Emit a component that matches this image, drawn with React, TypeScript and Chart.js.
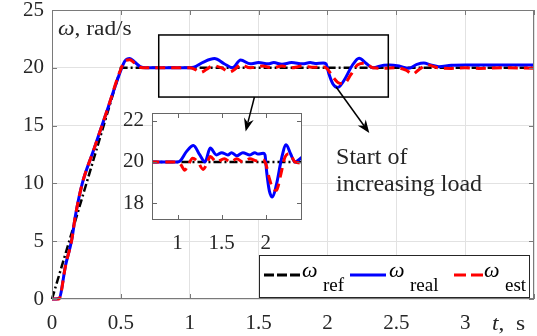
import React, { useEffect, useRef } from 'react';
import { Chart, registerables } from 'chart.js';

Chart.register(...registerables);

// ---------- data ----------
const tRef = [0, 0.5, 3.5];
const wRef = [0, 20, 20];

const tReal = [0, 0.05, 0.1, 0.143, 0.17, 0.22, 0.3, 0.4, 0.5, 0.53, 0.565, 0.6, 0.64, 0.68, 1.0, 1.03, 1.1, 1.18, 1.25, 1.31, 1.37, 1.44, 1.5, 1.57, 1.61, 1.67, 1.74, 1.82, 1.875, 1.91, 1.97, 1.99, 2.01, 2.04, 2.075, 2.12, 2.18, 2.23, 2.28, 2.33, 2.41, 2.45, 2.52, 2.59, 2.65, 2.7, 2.75, 2.81, 2.9, 3.0, 3.5];
const wReal = [0, 0.05, 3, 5.1, 7.2, 10, 12.8, 16.3, 19.8, 20.6, 20.8, 20.5, 20.1, 20.0, 20.0, 20.05, 20.5, 20.8, 20.35, 20.0, 20.67, 20.34, 20.45, 20.34, 20.45, 20.3, 20.45, 20.34, 20.45, 20.38, 20.42, 20.35, 19.5, 18.6, 18.3, 18.9, 20.2, 20.83, 20.4, 20.0, 20.23, 20.24, 20.15, 19.96, 20.3, 20.42, 20.25, 20.1, 20.22, 20.24, 20.24];

const tEst = [0, 0.05, 0.1, 0.143, 0.17, 0.22, 0.3, 0.4, 0.5, 0.53, 0.565, 0.6, 0.64, 0.68, 1.0, 1.04, 1.08, 1.12, 1.17, 1.23, 1.29, 1.33, 1.37, 1.44, 1.53, 1.6, 1.67, 1.74, 1.82, 1.9, 1.97, 2.0, 2.04, 2.08, 2.12, 2.17, 2.22, 2.27, 2.33, 2.4, 2.5, 2.57, 2.62, 2.66, 2.73, 2.8, 2.9, 3.0, 3.1, 3.3, 3.5];
const wEst = [0, 0, 3, 5.1, 7.2, 10, 12.8, 16.3, 19.9, 20.6, 20.7, 20.4, 20.05, 20.0, 20.0, 19.85, 19.6, 19.85, 20.18, 20.0, 19.64, 19.9, 20.26, 20.0, 20.15, 20.0, 20.15, 20.0, 20.15, 20.05, 20.1, 19.9, 19.2, 18.7, 18.63, 19.4, 20.26, 20.4, 20.0, 19.95, 20.0, 19.8, 19.46, 19.8, 20.24, 20.0, 19.95, 20.0, 19.95, 20.0, 19.97];

const mainXTicks = [0, 0.5, 1, 1.5, 2, 2.5, 3, 3.5];
const mainXLabels = ['0', '0.5', '1', '1.5', '2', '2.5', '3', ''];
const mainYTicks = [0, 5, 10, 15, 20, 25];
const mainYLabels = ['0', '5', '10', '15', '20', '25'];
const insetXTicks = [1, 1.5, 2];
const insetXLabels = ['1', '1.5', '2'];
const insetYTicks = [18, 20, 22];
const insetYLabels = ['18', '20', '22'];

// zoom window (data coordinates)
const zoomT = [0.775, 2.442];
const zoomW = [17.47, 22.84];
const insetT = [0.71, 2.41];
const insetW = [17.19, 22.37];

const SERIF = '"Liberation Serif", "Times New Roman", "DejaVu Serif", serif';
const TXT = '#262626';

const pts = (ts: number[], vs: number[]) => ts.map((t, i) => ({ x: t, y: vs[i] }));
const labelFor = (ticks: number[], labels: string[]) => (v: any) => {
  const i = ticks.findIndex((t) => Math.abs(t - Number(v)) < 1e-9);
  return i >= 0 ? labels[i] : '';
};

function makeDatasets(clip: any) {
  return [
    {
      label: 'est', data: pts(tEst, wEst), borderColor: '#ff0000', borderWidth: 3,
      borderDash: [10, 6], pointRadius: 0, cubicInterpolationMode: 'monotone', order: 0, clip,
    },
    {
      label: 'real', data: pts(tReal, wReal), borderColor: '#0000ff', borderWidth: 3,
      pointRadius: 0, cubicInterpolationMode: 'monotone', order: 1, clip,
    },
    {
      label: 'ref', data: pts(tRef, wRef), borderColor: '#000000', borderWidth: 2.5,
      borderDash: [8, 3, 2, 3], pointRadius: 0, tension: 0, order: 2, clip,
    },
  ];
}

function boxAndTicks(chart: any, color: string) {
  const ctx = chart.ctx;
  const { left, right, top, bottom } = chart.chartArea;
  const xs = chart.scales.x, ys = chart.scales.y;
  ctx.save();
  ctx.strokeStyle = color;
  ctx.lineWidth = 1;
  ctx.strokeRect(left + 0.5, top + 0.5, right - left - 1, bottom - top - 1);
  ctx.beginPath();
  xs.ticks.forEach((t: any) => {
    const px = Math.round(xs.getPixelForValue(t.value)) + 0.5;
    ctx.moveTo(px, bottom); ctx.lineTo(px, bottom - 5);
    ctx.moveTo(px, top); ctx.lineTo(px, top + 5);
  });
  ys.ticks.forEach((t: any) => {
    const py = Math.round(ys.getPixelForValue(t.value)) + 0.5;
    ctx.moveTo(left, py); ctx.lineTo(left + 5, py);
    ctx.moveTo(right, py); ctx.lineTo(right - 5, py);
  });
  ctx.stroke();
  ctx.restore();
}

function drawArrow(ctx: CanvasRenderingContext2D, x0: number, y0: number, x1: number, y1: number) {
  const ang = Math.atan2(y1 - y0, x1 - x0);
  const L = 13, W = 5, N = 9;
  const cos = Math.cos(ang), sin = Math.sin(ang);
  ctx.save();
  ctx.strokeStyle = '#000';
  ctx.fillStyle = '#000';
  ctx.lineWidth = 1.5;
  ctx.beginPath();
  ctx.moveTo(x0, y0);
  ctx.lineTo(x1 - cos * N, y1 - sin * N);
  ctx.stroke();
  ctx.beginPath();
  ctx.moveTo(x1, y1);
  ctx.lineTo(x1 - cos * L - sin * W, y1 - sin * L + cos * W);
  ctx.lineTo(x1 - cos * N, y1 - sin * N);
  ctx.lineTo(x1 - cos * L + sin * W, y1 - sin * L - cos * W);
  ctx.closePath();
  ctx.fill();
  ctx.restore();
}

// text drawn with a slight horizontal stretch, as in the reference
function wideText(ctx: CanvasRenderingContext2D, parts: { s: string; italic?: boolean }[], x: number, y: number, size: number, sx: number) {
  ctx.save();
  ctx.translate(x, y);
  ctx.scale(sx, 1);
  let cx = 0;
  parts.forEach((p) => {
    ctx.font = `${p.italic ? 'italic ' : ''}${size}px ${SERIF}`;
    ctx.fillText(p.s, cx, 0);
    cx += ctx.measureText(p.s).width;
  });
  ctx.restore();
}

const mainPlugin = {
  id: 'mainDecor',
  afterDraw(chart: any) {
    const ctx = chart.ctx;
    const xs = chart.scales.x, ys = chart.scales.y;
    const { left, right, bottom } = chart.chartArea;
    boxAndTicks(chart, '#7a7a7a');

    // zoom rectangle
    ctx.save();
    ctx.strokeStyle = '#000';
    ctx.lineWidth = 1.5;
    const rx0 = xs.getPixelForValue(zoomT[0]), rx1 = xs.getPixelForValue(zoomT[1]);
    const ry0 = ys.getPixelForValue(zoomW[1]), ry1 = ys.getPixelForValue(zoomW[0]);
    ctx.strokeRect(rx0, ry0, rx1 - rx0, ry1 - ry0);

    ctx.fillStyle = TXT;
    ctx.textBaseline = 'alphabetic';
    ctx.textAlign = 'left';

    // y label
    wideText(ctx, [{ s: 'ω', italic: true }, { s: ', rad/s' }], left + 6, 35, 20, 1.17);

    // x label
    wideText(ctx, [{ s: 't', italic: true }, { s: ',  s' }], right - 42, bottom + 31, 20, 1.17);

    // annotation text
    ctx.font = `24px ${SERIF}`;
    const ax = xs.getPixelForValue(2.063);
    ctx.fillText('Start of', ax, ys.getPixelForValue(11.7));
    ctx.fillText('increasing load', ax, ys.getPixelForValue(9.3));

    // legend
    const Lx0 = 259, Ly0 = 255, Lw = 271, Lh = 43;
    ctx.fillStyle = '#fff';
    ctx.fillRect(Lx0, Ly0, Lw, Lh);
    ctx.strokeStyle = '#262626';
    ctx.lineWidth = 1;
    ctx.strokeRect(Lx0 + 0.5, Ly0 + 0.5, Lw - 1, Lh - 1);
    const items = [
      { x0: 264, x1: 300, c: '#000', d: [10, 3], w: 3, wx: 302, s: 'ref', sx: 323 },
      { x0: 350, x1: 386, c: '#0000ff', d: [], w: 3, wx: 389, s: 'real', sx: 410 },
      { x0: 454, x1: 483, c: '#ff0000', d: [12, 5], w: 3, wx: 484, s: 'est', sx: 505 },
    ];
    const lineY = 275;
    items.forEach((it) => {
      ctx.save();
      ctx.strokeStyle = it.c;
      ctx.lineWidth = it.w;
      ctx.setLineDash(it.d);
      ctx.beginPath();
      ctx.moveTo(it.x0, lineY);
      ctx.lineTo(it.x1, lineY);
      ctx.stroke();
      ctx.restore();
      ctx.fillStyle = '#000';
      ctx.font = `italic 22px ${SERIF}`;
      ctx.fillText('ω', it.wx, 277);
      ctx.font = `19px ${SERIF}`;
      ctx.fillText(it.s, it.sx, 291);
    });
    ctx.restore();
  },
};

const insetPlugin = {
  id: 'insetDecor',
  beforeDatasetsDraw(chart: any) {
    const ctx = chart.ctx;
    const { left, right, top, bottom } = chart.chartArea;
    ctx.save();
    ctx.fillStyle = '#fff';
    ctx.fillRect(left, top, right - left, bottom - top);
    ctx.restore();
  },
  afterDraw(chart: any) {
    boxAndTicks(chart, '#666');
  },
};

const zeroPad = (s: any) => {
  s.paddingTop = 0; s.paddingBottom = 0; s.paddingLeft = 0; s.paddingRight = 0;
};

export default function App() {
  const mainRef = useRef<HTMLCanvasElement>(null);
  const insetRef = useRef<HTMLCanvasElement>(null);
  const overRef = useRef<HTMLCanvasElement>(null);

  useEffect(() => {
    const tickFont = { family: SERIF, size: 21 };
    const main = new Chart(mainRef.current as HTMLCanvasElement, {
      type: 'line',
      data: { datasets: makeDatasets(false) as any },
      options: {
        animation: false,
        responsive: false,
        devicePixelRatio: 1,
        events: [],
        layout: { padding: { top: 10, right: 3, left: 0, bottom: 0 }, autoPadding: false } as any,
        plugins: { legend: { display: false }, tooltip: { enabled: false } },
        scales: {
          x: {
            type: 'linear', min: 0, max: 3.5,
            afterBuildTicks: (s: any) => { s.ticks = mainXTicks.map((v) => ({ value: v })); },
            afterFit: (s: any) => { s.height = 37; zeroPad(s); },
            ticks: {
              font: tickFont, color: TXT, padding: 12, maxRotation: 0, autoSkip: false,
              callback: labelFor(mainXTicks, mainXLabels),
            },
            grid: { color: '#e2e2e2', drawTicks: false },
            border: { display: false },
          },
          y: {
            type: 'linear', min: 0, max: 25,
            afterBuildTicks: (s: any) => { s.ticks = mainYTicks.map((v) => ({ value: v })); },
            afterFit: (s: any) => { s.width = 52; zeroPad(s); },
            ticks: { font: tickFont, color: TXT, padding: 8, callback: labelFor(mainYTicks, mainYLabels) },
            grid: { color: '#e2e2e2', drawTicks: false },
            border: { display: false },
          },
        },
      } as any,
      plugins: [mainPlugin],
    });

    const inset = new Chart(insetRef.current as HTMLCanvasElement, {
      type: 'line',
      data: { datasets: makeDatasets(0) as any },
      options: {
        animation: false,
        responsive: false,
        devicePixelRatio: 1,
        events: [],
        layout: { padding: { top: 13, right: 8, left: 0, bottom: 0 }, autoPadding: false } as any,
        plugins: { legend: { display: false }, tooltip: { enabled: false } },
        scales: {
          x: {
            type: 'linear', min: insetT[0], max: insetT[1],
            afterBuildTicks: (s: any) => { s.ticks = insetXTicks.map((v) => ({ value: v })); },
            afterFit: (s: any) => { s.height = 30; zeroPad(s); },
            ticks: {
              font: tickFont, color: TXT, padding: 11, maxRotation: 0, autoSkip: false,
              callback: labelFor(insetXTicks, insetXLabels),
            },
            grid: { display: false, drawTicks: false },
            border: { display: false },
          },
          y: {
            type: 'linear', min: insetW[0], max: insetW[1],
            afterBuildTicks: (s: any) => { s.ticks = insetYTicks.map((v) => ({ value: v })); },
            afterFit: (s: any) => { s.width = 42; zeroPad(s); },
            ticks: { font: tickFont, color: TXT, padding: 8, callback: labelFor(insetYTicks, insetYLabels) },
            grid: { display: false, drawTicks: false },
            border: { display: false },
          },
        },
      } as any,
      plugins: [insetPlugin],
    });

    // arrows on top of everything, positioned through the main chart's scales
    const drawOverlay = () => {
      const oc = (overRef.current as HTMLCanvasElement).getContext('2d') as CanvasRenderingContext2D;
      oc.clearRect(0, 0, 537, 336);
      const xs: any = main.scales.x, ys: any = main.scales.y;
      drawArrow(oc, xs.getPixelForValue(1.47), ys.getPixelForValue(zoomW[0]), xs.getPixelForValue(1.406), ys.getPixelForValue(14.5));
      drawArrow(oc, xs.getPixelForValue(2.063), ys.getPixelForValue(18.34), xs.getPixelForValue(2.304), ys.getPixelForValue(14.36));
    };
    drawOverlay();

    let alive = true;
    const fonts: any = (document as any).fonts;
    if (fonts && fonts.load) {
      Promise.all([
        fonts.load('20px "Liberation Serif"'),
        fonts.load('italic 20px "Liberation Serif"'),
      ]).then(() => {
        if (!alive) return;
        main.update();
        inset.update();
        drawOverlay();
      }).catch(() => {});
    }

    return () => {
      alive = false;
      main.destroy();
      inset.destroy();
    };
  }, []);

  const abs: React.CSSProperties = { position: 'absolute' };
  return (
    <div style={{ position: 'absolute', left: 0, top: 0, width: 537, height: 336, background: '#fff', overflow: 'hidden' }}>
      <canvas ref={mainRef} width={537} height={336} style={{ ...abs, left: 0, top: 0, width: 537, height: 336 }} />
      <canvas ref={insetRef} width={200} height={150} style={{ ...abs, left: 110, top: 100, width: 200, height: 150 }} />
      <canvas ref={overRef} width={537} height={336} style={{ ...abs, left: 0, top: 0, width: 537, height: 336, pointerEvents: 'none' }} />
    </div>
  );
}
